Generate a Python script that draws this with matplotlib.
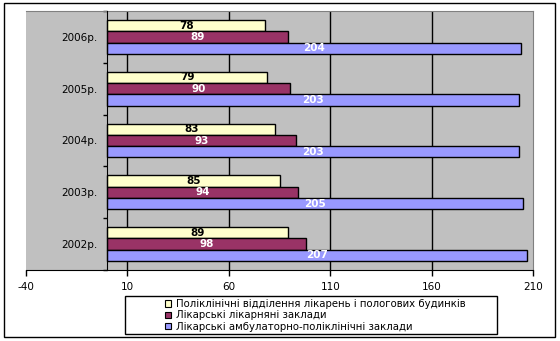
import matplotlib
matplotlib.use("Agg")
import matplotlib.pyplot as plt
import numpy as np
from matplotlib.patches import Rectangle

plt.rcParams['font.family'] = ['DejaVu Sans']

# data (bottom to top, as drawn)
years = ['2002р.', '2003р.', '2004р.', '2005р.', '2006р.']
polyclinic = [89, 85, 83, 79, 78]
hospital = [98, 94, 93, 90, 89]
ambulatory = [207, 205, 203, 203, 204]

series_names = [
    'Поліклінічні відділення лікарень і пологових будинків',
    'Лікарські лікарняні заклади',
    'Лікарські амбулаторно-поліклінічні заклади',
]
colors = ['#FFFFCC', '#993366', '#9999FF']
label_colors = ['black', 'white', 'white']
x_ticks = [-40, 10, 60, 110, 160, 210]

fig = plt.figure(figsize=(5.6, 3.41), dpi=100)
ax = fig.add_axes([26 / 560, 71 / 341, 507 / 560, 259 / 341])
ax.set_facecolor('#C0C0C0')

y = np.arange(len(years))
h = 0.217
offsets = [h, 0, -h]
for vals, off, col, lc, name in zip([polyclinic, hospital, ambulatory], offsets,
                                    colors, label_colors, series_names):
    bars = ax.barh(y + off, vals, height=h, color=col, edgecolor='black',
                   linewidth=1, label=name, zorder=3)
    for b, v in zip(bars, vals):
        ax.text(v / 2, b.get_y() + b.get_height() / 2, str(v), ha='center',
                va='center', fontsize=7.5, color=lc, fontweight='bold', zorder=4)

ax.set_xlim(-40, 210)
ax.set_ylim(-0.5, len(years) - 0.5)
ax.set_xticks(x_ticks)
ax.set_xticklabels([str(t) for t in x_ticks], fontsize=7.5)
ax.tick_params(axis='x', direction='out', length=4, width=1, pad=5, colors='black')

ax.xaxis.grid(True, color='black', linewidth=1, zorder=1)
gl = ax.xaxis.get_gridlines()
gl[0].set_visible(False)
gl[-1].set_visible(False)
ax.set_axisbelow(True)

# category axis sits at value 0
ax.spines['left'].set_position(('data', 0))
ax.spines['left'].set_color('black')
ax.spines['left'].set_zorder(5)
ax.set_yticks(np.arange(-0.5, len(years), 1.0))
ax.set_yticklabels([])
ax.set_yticks(y, minor=True)
ax.set_yticklabels(years, minor=True, fontsize=7.5)
ax.tick_params(axis='y', which='major', direction='out', length=3, width=1)
ax.tick_params(axis='y', which='minor', length=0, pad=7)

ax.spines['bottom'].set_color('black')
ax.spines['top'].set_color('#808080')
ax.spines['right'].set_color('#808080')

# legend without its own frame; box drawn separately
leg = fig.legend(loc='upper left', bbox_to_anchor=(165 / 560, 1 - 299 / 341),
                 fontsize=7.3, frameon=False,
                 handlelength=0.6, handleheight=0.6, handletextpad=0.45,
                 labelspacing=0.14, borderpad=0, borderaxespad=0)
for p in leg.get_patches():
    p.set_linewidth(0.8)
fig.patches.append(Rectangle((125 / 560, 7 / 341), 372 / 560, 38 / 341,
                             transform=fig.transFigure, fill=False,
                             edgecolor='black', linewidth=1))

fig.patches.append(Rectangle((4 / 560, 4 / 341), 551 / 560, 334 / 341,
                             transform=fig.transFigure, fill=False,
                             edgecolor='black', linewidth=1))

fig.savefig('out.png', dpi=100)
